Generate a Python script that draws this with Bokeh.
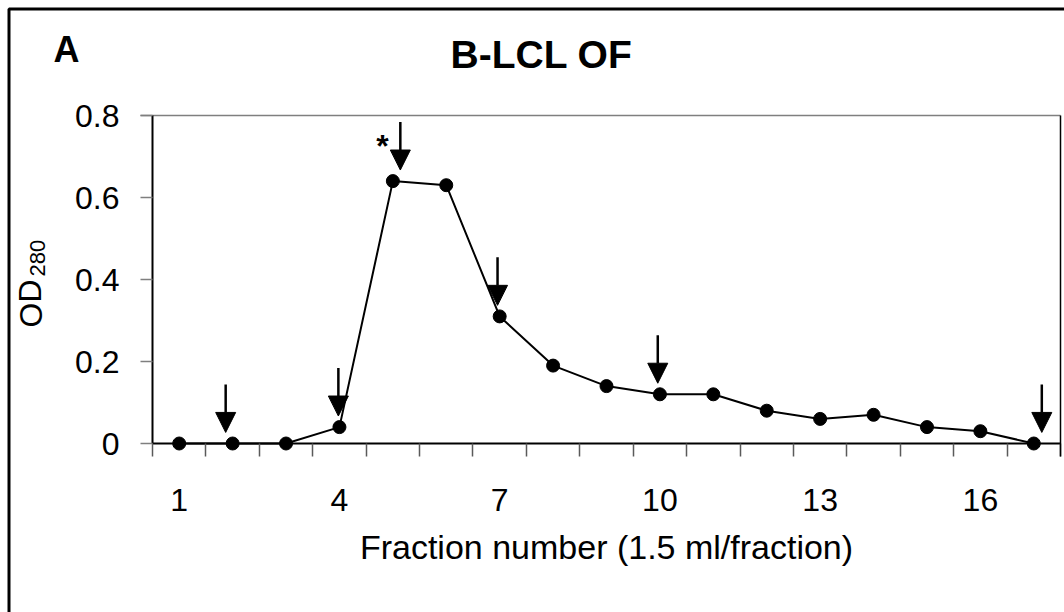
from bokeh.plotting import figure
from bokeh.models import (ColumnDataSource, Range1d, LinearAxis, FixedTicker, Arrow,
                          NormalHead, Label, BoxAnnotation, CustomJSTickFormatter)
from bokeh.embed import file_html
from bokeh.resources import INLINE

# ---------------- data ----------------
fractions = list(range(1, 18))
od280 = [0, 0, 0, 0.04, 0.64, 0.63, 0.31, 0.19, 0.14, 0.12, 0.12, 0.08,
         0.06, 0.07, 0.04, 0.03, 0]
arrow_fractions = [2, 4, 5, 7, 10, 17]
arrow_dx = [-0.13, -0.02, 0.14, -0.04, -0.04, 0.15]
x_tick_values = [1, 4, 7, 10, 13, 16]
y_tick_values = [0, 0.2, 0.4, 0.6, 0.8]
title_text = "B-LCL OF"
panel_letter = "A"
x_label = "Fraction number (1.5 ml/fraction)"
y_label_main = "OD"
y_label_sub = "280"
star_text = "*"

FONT = "Liberation Sans"

# pixel layout of the plot area inside the 1064 x 612 canvas
W, H = 1064, 612
PX_LEFT, PX_RIGHT = 152, 1060      # x = 0.5 and x = 17.5
PX_ZERO, PX_TOP = 443, 115         # y = 0 and y = 0.8
XMIN, XMAX = 0.5, len(fractions) + 0.5
YMAX = 0.8
ux = (PX_RIGHT - PX_LEFT) / (XMAX - XMIN)
uy = (PX_ZERO - PX_TOP) / YMAX
TXT_SHIFT = 13   # renderer places alphabetic baseline this much further down / right

def px_x(px):
    return XMIN + (px - PX_LEFT) / ux

def px_y(py):
    return (PX_ZERO - py) / uy

p = figure(frame_width=W, frame_height=H, min_border=0,
           x_range=Range1d(px_x(0), px_x(W)), y_range=Range1d(px_y(H), px_y(0)),
           output_backend="svg", toolbar_location=None,
           x_axis_type=None, y_axis_type=None)
p.outline_line_color = None
p.xgrid.visible = False
p.ygrid.visible = False
p.background_fill_color = "white"
p.border_fill_color = "white"
p.title.visible = False

ybot = px_y(PX_ZERO + 13)   # bottom end of x tick marks

# y axis at x = 0.5
yax = LinearAxis(ticker=FixedTicker(ticks=y_tick_values, minor_ticks=[]),
                 fixed_location=XMIN, bounds=(0, YMAX))
yax.formatter = CustomJSTickFormatter(code="return tick == 0 ? '0' : tick.toFixed(1);")
yax.axis_line_color = "black"
yax.axis_line_width = 2
yax.major_tick_line_color = "#7f7f7f"
yax.major_tick_line_width = 1.5
yax.major_tick_out = 12
yax.major_tick_in = 0
yax.minor_tick_line_color = None
yax.major_label_standoff = 21
yax.major_label_text_font = FONT
yax.major_label_text_font_size = "32px"
yax.major_label_text_color = "black"
p.add_layout(yax, "left")

# x axis at y = 0
minor = [f + 0.5 for f in [0] + fractions]
xax = LinearAxis(ticker=FixedTicker(ticks=x_tick_values, minor_ticks=minor),
                 fixed_location=0, bounds=(XMIN, XMAX))
xax.axis_line_color = "black"
xax.axis_line_width = 2
xax.major_tick_line_color = None
xax.major_tick_out = 0
xax.major_tick_in = 0
xax.minor_tick_line_color = "#5a5a5a"
xax.minor_tick_line_width = 1.5
xax.minor_tick_out = 13
xax.minor_tick_in = 0
xax.major_label_standoff = 32
xax.major_label_text_font = FONT
xax.major_label_text_font_size = "32px"
xax.major_label_text_color = "black"
xax.axis_label = x_label
xax.axis_label_text_font = FONT
xax.axis_label_text_font_size = "34px"
xax.axis_label_text_font_style = "normal"
xax.axis_label_text_color = "black"
xax.axis_label_standoff = 14
p.add_layout(xax, "below")

# top (gray) and right (black) borders of the plot area
top_ax = LinearAxis(ticker=FixedTicker(ticks=[], minor_ticks=[]), fixed_location=YMAX,
                    bounds=(px_x(PX_LEFT - 12), XMAX), major_label_text_font_size="0px")
top_ax.axis_line_color = "#7f7f7f"
top_ax.axis_line_width = 1.5
top_ax.major_tick_line_color = None
top_ax.minor_tick_line_color = None
p.add_layout(top_ax, "above")

right_ax = LinearAxis(ticker=FixedTicker(ticks=[], minor_ticks=[]), fixed_location=XMAX,
                      bounds=(ybot, YMAX), major_label_text_font_size="0px")
right_ax.axis_line_color = "black"
right_ax.axis_line_width = 1.5
right_ax.major_tick_line_color = None
right_ax.minor_tick_line_color = None
p.add_layout(right_ax, "right")

# data
src = ColumnDataSource(dict(x=fractions, y=od280))
p.line("x", "y", source=src, line_color="black", line_width=2)
p.scatter("x", "y", source=src, size=13, fill_color="black", line_color="black")

# arrows
gap = 0.027
shaft = 0.117
lookup = dict(zip(fractions, od280))
ax_x = [f + d for f, d in zip(arrow_fractions, arrow_dx)]
ax_tip = [lookup[f] + gap for f in arrow_fractions]
ax_top = [t + shaft for t in ax_tip]
asrc = ColumnDataSource(dict(x=ax_x, y0=ax_top, y1=ax_tip))
p.add_layout(Arrow(source=asrc, x_start="x", y_start="y0", x_end="x", y_end="y1",
                   line_color="black", line_width=2.5,
                   end=NormalHead(size=20, fill_color="black", line_color="black",
                                  line_width=1)))

# texts
p.add_layout(Label(x=px_x(541), y=px_y(67 - TXT_SHIFT), text=title_text,
                   text_align="center", text_baseline="alphabetic", text_font=FONT,
                   text_font_style="bold", text_font_size="39px", text_color="black"))
p.add_layout(Label(x=px_x(53), y=px_y(62 - TXT_SHIFT), text=panel_letter,
                   text_align="left", text_baseline="alphabetic", text_font=FONT,
                   text_font_style="bold", text_font_size="36px", text_color="black"))
p.add_layout(Label(x=px_x(382), y=px_y(158 - TXT_SHIFT), text=star_text,
                   text_align="center", text_baseline="alphabetic", text_font=FONT,
                   text_font_style="bold", text_font_size="32px", text_color="black"))
p.add_layout(Label(x=px_x(43 - TXT_SHIFT), y=px_y(327), text=y_label_main, angle=1.5708,
                   text_align="left", text_baseline="alphabetic", text_font=FONT,
                   text_font_size="32px", text_color="black"))
p.add_layout(Label(x=px_x(50 - TXT_SHIFT), y=px_y(276), text=y_label_sub, angle=1.5708,
                   text_align="left", text_baseline="alphabetic", text_font=FONT,
                   text_font_size="22px", text_color="black"))

# outer border of the whole figure
p.add_layout(BoxAnnotation(left=px_x(8.5), right=px_x(W + 20), top=px_y(8.5),
                           bottom=px_y(H + 20), fill_color=None,
                           line_color="black", line_alpha=1.0, line_width=3))

open("out.html", "w").write(file_html(p, INLINE))
